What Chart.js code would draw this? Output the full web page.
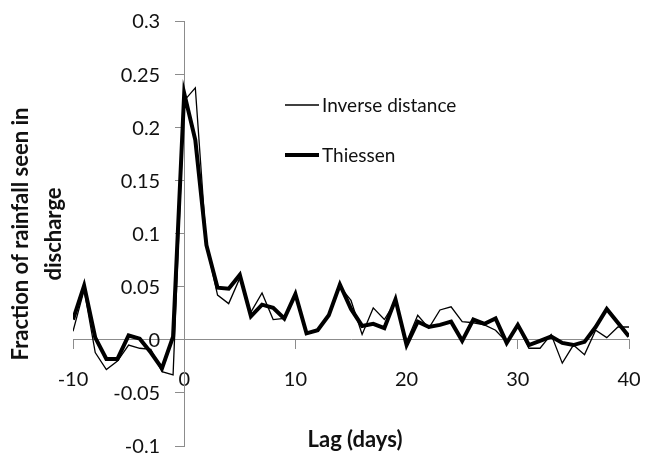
<!DOCTYPE html>
<html>
<head>
<meta charset="utf-8">
<script src="https://cdn.jsdelivr.net/npm/chart.js@4/dist/chart.umd.min.js"></script>
<style>
    body { margin: 0; background: #fff; }
</style>
</head>
<body>
<canvas id="lag-chart" width="650" height="457"></canvas>
<script>
// lag in days, -10 .. 40
const lags = [];
for (let d = -10; d <= 40; d++) lags.push(d);

const inverseDistance = [
    0.008, 0.047, -0.012, -0.028, -0.020, -0.005, -0.008, -0.009, -0.030, -0.033,
    0.225, 0.237, 0.089, 0.042, 0.034, 0.058, 0.026, 0.044, 0.019, 0.020,
    0.041, 0.006, 0.009, 0.024, 0.050, 0.037, 0.005, 0.030, 0.019, 0.036,
    -0.002, 0.023, 0.011, 0.028, 0.031, 0.017, 0.016, 0.014, 0.009, -0.002,
    0.013, -0.008, -0.008, 0.005, -0.022, -0.005, -0.014, 0.009, 0.002, 0.012,
    0.012
];

const thiessen = [
    0.019, 0.051, 0.002, -0.018, -0.018, 0.004, 0.001, -0.012, -0.027, 0.003,
    0.232, 0.188, 0.089, 0.049, 0.048, 0.061, 0.022, 0.033, 0.030, 0.020,
    0.043, 0.006, 0.009, 0.023, 0.052, 0.029, 0.013, 0.015, 0.011, 0.038,
    -0.005, 0.017, 0.012, 0.014, 0.017, -0.001, 0.019, 0.015, 0.020, -0.003,
    0.014, -0.005, -0.001, 0.003, -0.003, -0.005, -0.002, 0.012, 0.029, 0.016,
    0.003
];

const xTicks = [-10, 0, 10, 20, 30, 40];
const yTicks = [-0.1, -0.05, 0, 0.05, 0.1, 0.15, 0.2, 0.25, 0.3];

const yTitle = ['Fraction of rainfall seen in', 'discharge'];
const xTitle = 'Lag (days)';

const toPoints = (values) => values.map((v, i) => ({ x: lags[i], y: v }));

Chart.defaults.font.family = 'Lato, "Open Sans", sans-serif';
Chart.defaults.color = '#111';

// drop the label overflow padding so the plot area is set by layout.padding only
const noPad = (scale) => {
    scale.paddingLeft = scale.paddingRight = scale.paddingTop = scale.paddingBottom = 0;
};

// y tick labels, axis titles and the in-plot legend, drawn by hand
const labelsPlugin = {
    id: 'labels',
    afterDraw(chart) {
        const ctx = chart.ctx;
        const yScale = chart.scales.y;
        const axisX = chart.scales.x.getPixelForValue(0);

        ctx.save();
        ctx.fillStyle = '#111';
        ctx.font = '20px Lato, sans-serif';
        ctx.textAlign = 'right';
        ctx.textBaseline = 'middle';
        yTicks.forEach(v => {
            const label = String(Math.round(v * 100) / 100);
            ctx.fillText(label, axisX - 24, yScale.getPixelForValue(v) + 1);
        });

        ctx.font = 'bold 22px Lato, sans-serif';
        ctx.textAlign = 'center';
        ctx.fillText(xTitle, 355, 440);

        ctx.translate(0, 234);
        ctx.rotate(-Math.PI / 2);
        ctx.fillText(yTitle[0], 0, 21);
        ctx.fillText(yTitle[1], 0, 54);
        ctx.restore();

        // legend
        ctx.save();
        ctx.font = '19px Lato, sans-serif';
        ctx.textBaseline = 'middle';
        ctx.textAlign = 'left';
        chart.data.datasets.forEach((ds, i) => {
            const y = 105 + i * 50;
            ctx.strokeStyle = ds.borderColor;
            ctx.lineWidth = ds.borderWidth;
            ctx.beginPath();
            ctx.moveTo(285, y);
            ctx.lineTo(319, y);
            ctx.stroke();
            ctx.fillStyle = '#111';
            ctx.fillText(ds.label, 322, y + 1);
        });
        ctx.restore();
    }
};

new Chart(document.getElementById('lag-chart').getContext('2d'), {
    type: 'line',
    data: {
        datasets: [
            {
                label: 'Inverse distance',
                data: toPoints(inverseDistance),
                borderColor: '#000',
                borderWidth: 1.3,
                pointRadius: 0,
                tension: 0,
            },
            {
                label: 'Thiessen',
                data: toPoints(thiessen),
                borderColor: '#000',
                borderWidth: 4,
                pointRadius: 0,
                tension: 0,
            }
        ]
    },
    options: {
        responsive: false,
        animation: false,
        devicePixelRatio: 1,
        layout: { padding: { left: 73, right: 21, top: 21, bottom: 11 } },
        plugins: {
            legend: { display: false },
            tooltip: { enabled: false },
        },
        scales: {
            x: {
                type: 'linear',
                position: { y: 0 },
                min: -10,
                max: 40,
                afterBuildTicks: (axis) => { axis.ticks = xTicks.map(v => ({ value: v })); },
                afterFit: noPad,
                ticks: { font: { size: 20 }, padding: 19, maxRotation: 0 },
                grid: { drawOnChartArea: false, tickLength: 9, color: '#8c8c8c' },
                border: { color: '#8c8c8c' },
            },
            y: {
                type: 'linear',
                position: { x: 0 },
                min: -0.1,
                max: 0.3,
                afterBuildTicks: (axis) => { axis.ticks = yTicks.map(v => ({ value: v })); },
                afterFit: noPad,
                ticks: { display: false },
                grid: { drawOnChartArea: false, tickLength: 9, color: '#8c8c8c' },
                border: { color: '#8c8c8c' },
            }
        }
    },
    plugins: [labelsPlugin]
});
</script>
</body>
</html>
